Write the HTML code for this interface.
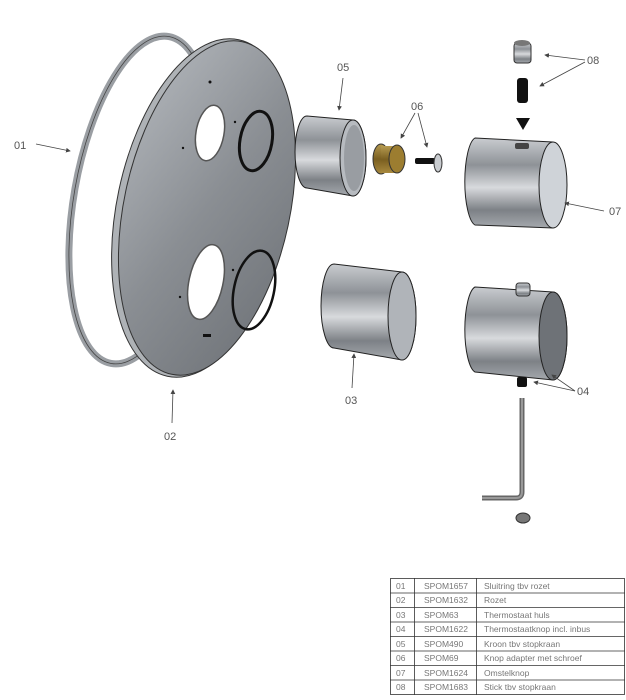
<!DOCTYPE html>
<html><head><meta charset="utf-8"><style>
html,body{margin:0;padding:0;background:#fff;width:626px;height:700px;overflow:hidden}
svg{display:block}
text{font-family:"Liberation Sans",sans-serif}
</style></head><body>
<svg width="626" height="700" viewBox="0 0 626 700">
<defs>
<linearGradient id="met" x1="0" y1="0" x2="0" y2="1">
<stop offset="0" stop-color="#c9ccd0"/><stop offset="0.3" stop-color="#8e9297"/><stop offset="0.55" stop-color="#d8dadd"/><stop offset="0.8" stop-color="#7d8186"/><stop offset="1" stop-color="#a5a9ae"/></linearGradient>
<linearGradient id="disc" x1="0" y1="0" x2="1" y2="1">
<stop offset="0" stop-color="#b4b8bd"/><stop offset="0.5" stop-color="#8a8e93"/><stop offset="1" stop-color="#6d7176"/></linearGradient>
<linearGradient id="brass" x1="0" y1="0" x2="0" y2="1"><stop offset="0" stop-color="#b59a50"/><stop offset="0.5" stop-color="#7a5f20"/><stop offset="1" stop-color="#a8893e"/></linearGradient>
<marker id="ar" markerWidth="6" markerHeight="6" refX="5" refY="3" orient="auto"><path d="M0,0L6,3L0,6z" fill="#444"/></marker>
</defs>
<!-- ring 01 -->
<ellipse cx="140" cy="200" rx="66" ry="166" transform="rotate(10 140 200)" fill="none" stroke="#9a9ea3" stroke-width="7"/>
<ellipse cx="140" cy="200" rx="66" ry="166" transform="rotate(10 140 200)" fill="none" stroke="#444" stroke-width="0.8"/>
<!-- disc 02 -->
<ellipse cx="203" cy="208" rx="86" ry="172" transform="rotate(12 203 208)" fill="#aeb2b6" stroke="#333" stroke-width="1"/>
<ellipse cx="207" cy="208" rx="83" ry="170" transform="rotate(12 207 208)" fill="url(#disc)" stroke="#333" stroke-width="1"/>
<ellipse cx="210" cy="133" rx="14" ry="28" transform="rotate(10 210 133)" fill="#fff" stroke="#555" stroke-width="1.5"/>
<ellipse cx="256" cy="141" rx="16" ry="30" transform="rotate(10 256 141)" fill="none" stroke="#111" stroke-width="3"/>
<ellipse cx="206" cy="282" rx="17" ry="38" transform="rotate(12 206 282)" fill="#fff" stroke="#555" stroke-width="1.5"/>
<ellipse cx="254" cy="290" rx="20" ry="40" transform="rotate(12 254 290)" fill="none" stroke="#111" stroke-width="2.5"/>
<rect x="203" y="334" width="8" height="3" fill="#111"/>
<circle cx="210" cy="82" r="1.5" fill="#111"/><circle cx="235" cy="122" r="1.2" fill="#111"/><circle cx="183" cy="148" r="1.2" fill="#111"/><circle cx="233" cy="270" r="1.2" fill="#111"/><circle cx="180" cy="297" r="1.2" fill="#111"/>
<!-- cyl 05 -->
<path d="M307,116 L353,120 A13,38 0 0 1 353,196 L307,188 A12,36 0 0 1 307,116z" fill="url(#met)" stroke="#222"/>
<ellipse cx="353" cy="158" rx="13" ry="38" fill="#b7bbc0" stroke="#222"/><ellipse cx="354" cy="158" rx="10" ry="33" fill="#999da2"/>
<!-- 06 -->
<ellipse cx="381" cy="159" rx="8" ry="15" fill="url(#brass)" stroke="#333"/>
<rect x="381" y="146" width="16" height="27" fill="url(#brass)"/>
<ellipse cx="397" cy="159" rx="8" ry="14" fill="#9c7d30" stroke="#333"/>
<rect x="415" y="158" width="20" height="6" rx="2" fill="#111"/>
<ellipse cx="438" cy="163" rx="4" ry="9" fill="#c8cbcf" stroke="#333"/>
<!-- 08 -->
<rect x="514" y="43" width="17" height="20" rx="3" fill="url(#met)" stroke="#333"/>
<ellipse cx="522" cy="43" rx="8" ry="3" fill="#777"/>
<rect x="517" y="78" width="11" height="25" rx="3" fill="#111"/>
<path d="M516,118 L530,118 L523,130 z" fill="#111"/>
<!-- cyl 07 -->
<path d="M475,138 L553,142 A14,44 0 0 1 553,228 L475,225 A12,44 0 0 1 475,138z" fill="url(#met)" stroke="#222"/>
<ellipse cx="553" cy="185" rx="14" ry="43" fill="#cfd3d8" stroke="#222"/>
<rect x="515" y="143" width="14" height="6" rx="2" fill="#444"/>
<!-- cyl 03 -->
<path d="M334,264 L402,272 A14,44 0 0 1 402,360 L334,348 A13,42 0 0 1 334,264z" fill="url(#met)" stroke="#222"/>
<ellipse cx="402" cy="316" rx="14" ry="44" fill="#b0b4b9" stroke="#222"/>
<!-- cyl 04 -->
<path d="M475,287 L553,292 A14,44 0 0 1 553,380 L475,372 A12,43 0 0 1 475,287z" fill="url(#met)" stroke="#222"/>
<ellipse cx="553" cy="336" rx="14" ry="44" fill="#6e7277" stroke="#222"/>
<rect x="516" y="283" width="14" height="13" rx="3" fill="url(#met)" stroke="#333"/>
<rect x="517" y="377" width="10" height="10" rx="2" fill="#111"/>
<!-- allen key -->
<path d="M522,398 L522,492 Q522,498 516,498 L482,498" fill="none" stroke="#666" stroke-width="5"/>
<path d="M522,398 L522,492 Q522,498 516,498 L482,498" fill="none" stroke="#999" stroke-width="2"/>
<ellipse cx="523" cy="518" rx="7" ry="5" fill="#777" stroke="#333"/>
<!-- labels & arrows -->
<g fill="#555" font-size="11">
<text x="14" y="149">01</text><text x="164" y="440">02</text><text x="345" y="404">03</text><text x="577" y="395">04</text>
<text x="337" y="71">05</text><text x="411" y="110">06</text><text x="609" y="215">07</text><text x="587" y="64">08</text>
</g>
<g stroke="#444" stroke-width="0.8" fill="none" marker-end="url(#ar)">
<line x1="36" y1="144" x2="70" y2="151"/><line x1="172" y1="423" x2="173" y2="390"/>
<line x1="352" y1="388" x2="354" y2="354"/><line x1="343" y1="78" x2="339" y2="110"/>
<line x1="415" y1="113" x2="401" y2="138"/><line x1="418" y1="113" x2="427" y2="147"/>
<line x1="604" y1="211" x2="565" y2="203"/><line x1="585" y1="60" x2="545" y2="55"/><line x1="585" y1="62" x2="540" y2="86"/>
<line x1="575" y1="391" x2="552" y2="375"/><line x1="575" y1="391" x2="534" y2="382"/>
</g>
<!-- table -->
<g stroke="#333" stroke-width="0.8" fill="none">
<rect x="390.5" y="578.5" width="234" height="116"/>
<line x1="414.5" y1="578" x2="414.5" y2="695"/><line x1="476.5" y1="578" x2="476.5" y2="695"/>
<line x1="390" y1="593" x2="625" y2="593"/><line x1="390" y1="607.5" x2="625" y2="607.5"/><line x1="390" y1="622" x2="625" y2="622"/><line x1="390" y1="636.5" x2="625" y2="636.5"/><line x1="390" y1="651" x2="625" y2="651"/><line x1="390" y1="665.5" x2="625" y2="665.5"/><line x1="390" y1="680" x2="625" y2="680"/>
</g>
<g fill="#777" font-size="8.5">
<text x="396" y="589">01</text><text x="424" y="589">SPOM1657</text><text x="484" y="589">Sluitring tbv rozet</text>
<text x="396" y="603">02</text><text x="424" y="603">SPOM1632</text><text x="484" y="603">Rozet</text>
<text x="396" y="618">03</text><text x="424" y="618">SPOM63</text><text x="484" y="618">Thermostaat huls</text>
<text x="396" y="632">04</text><text x="424" y="632">SPOM1622</text><text x="484" y="632">Thermostaatknop incl. inbus</text>
<text x="396" y="647">05</text><text x="424" y="647">SPOM490</text><text x="484" y="647">Kroon tbv stopkraan</text>
<text x="396" y="661">06</text><text x="424" y="661">SPOM69</text><text x="484" y="661">Knop adapter met schroef</text>
<text x="396" y="676">07</text><text x="424" y="676">SPOM1624</text><text x="484" y="676">Omstelknop</text>
<text x="396" y="690">08</text><text x="424" y="690">SPOM1683</text><text x="484" y="690">Stick tbv stopkraan</text>
</g>
</svg>
</body></html>
